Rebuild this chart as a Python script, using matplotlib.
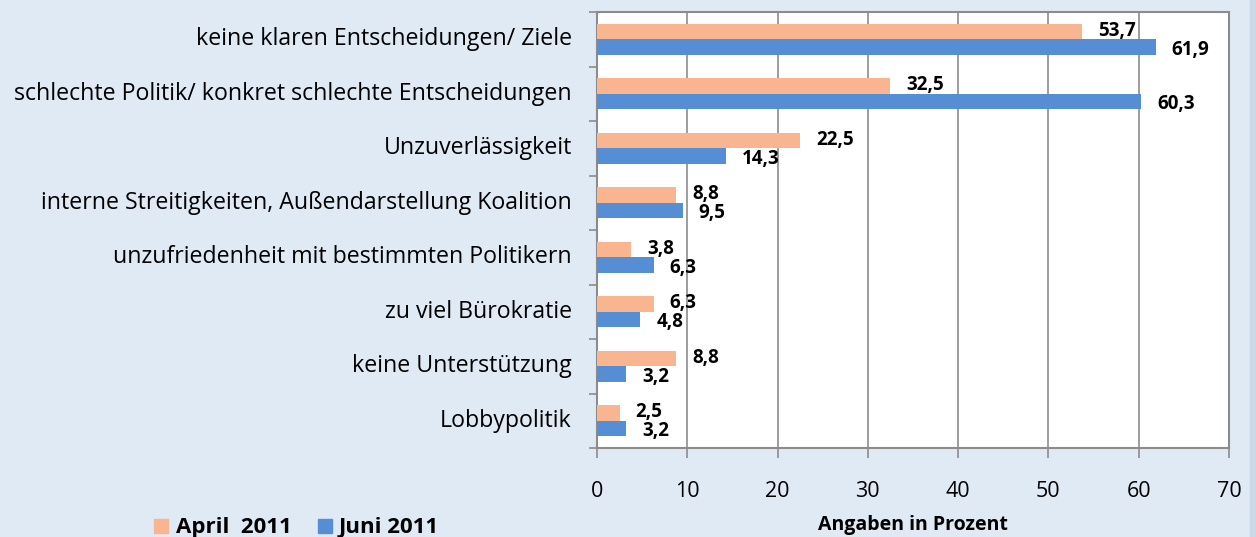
import numpy as np
import matplotlib.pyplot as plt
from matplotlib.patches import Rectangle

# data (top to bottom)
categories = ["keine klaren Entscheidungen/ Ziele",
              "schlechte Politik/ konkret schlechte Entscheidungen",
              "Unzuverlässigkeit",
              "interne Streitigkeiten, Außendarstellung Koalition",
              "unzufriedenheit mit bestimmten Politikern",
              "zu viel Bürokratie",
              "keine Unterstützung",
              "Lobbypolitik"]
april = [53.7, 32.5, 22.5, 8.8, 3.8, 6.3, 8.8, 2.5]
juni = [61.9, 60.3, 14.3, 9.5, 6.3, 4.8, 3.2, 3.2]
xticks = [0, 10, 20, 30, 40, 50, 60, 70]

c_apr = "#F9B590"
c_jun = "#558ED5"
bg = "#DFEAF5"
grid_c = "#8C8C8C"

plt.rcParams['font.family'] = ['Open Sans', 'DejaVu Sans']

W, H = 1256, 537
fig = plt.figure(figsize=(W / 100, H / 100), dpi=100)
fig.patch.set_facecolor(bg)
# slightly darker strip on the right edge
fig.patches.append(Rectangle((1250 / W, 0), 6 / W, 1, transform=fig.transFigure,
                             color="#CCD8E6", zorder=0))

ax = fig.add_axes([597 / W, 1 - 448 / H, 632 / W, 436 / H])
ax.set_facecolor("white")

n = len(categories)
y = np.arange(n)[::-1] + 0.5
h = 0.28
ax.barh(y + h / 2, april, height=h, color=c_apr, zorder=3)
ax.barh(y - h / 2, juni, height=h, color=c_jun, zorder=3)

def fmt(v):
    return ("%.1f" % v).replace(".", ",")

for yi, a, j in zip(y, april, juni):
    ax.annotate(fmt(a), (a, yi + h / 2), xytext=(11.5, 0.5), textcoords="offset points",
                ha="left", va="center", fontsize=13.5, fontweight="bold", zorder=4)
    ax.annotate(fmt(j), (j, yi - h / 2), xytext=(11.5, -2), textcoords="offset points",
                ha="left", va="center", fontsize=13.5, fontweight="bold", zorder=4)

ax.set_xlim(0, 70)
ax.set_ylim(0, n)
ax.set_xticks(xticks)
ax.set_xticklabels([str(t) for t in xticks], fontsize=15.5)
ax.tick_params(axis="x", length=7, color=grid_c, width=1.2, pad=17)
ax.set_yticks(np.arange(n + 1))
ax.set_yticklabels([])
ax.tick_params(axis="y", length=6, color=grid_c, width=1.2)
ax.xaxis.grid(True, color=grid_c, linewidth=1.2, zorder=0)
for s in ax.spines.values():
    s.set_color(grid_c)
    s.set_linewidth(1.5)

for yi, cat in zip(y, categories):
    ax.annotate(cat, (0, yi), xycoords=("axes fraction", "data"), xytext=(-18, 0),
                textcoords="offset points", ha="right", va="center", fontsize=16.7)

ax.set_xlabel("Angaben in Prozent", fontsize=14, fontweight="bold", labelpad=9)

# legend
fig.patches.append(Rectangle((154 / W, 1 - 533 / H), 14 / W, 14 / H,
                             transform=fig.transFigure, color=c_apr))
fig.text(176 / W, 1 - 533 / H, "April  2011", fontsize=16, fontweight="bold", va="baseline")
fig.patches.append(Rectangle((318 / W, 1 - 533 / H), 14 / W, 14 / H,
                             transform=fig.transFigure, color=c_jun))
fig.text(339 / W, 1 - 533 / H, "Juni 2011", fontsize=16, fontweight="bold", va="baseline")

fig.savefig("out.png", dpi=100, facecolor=bg)
